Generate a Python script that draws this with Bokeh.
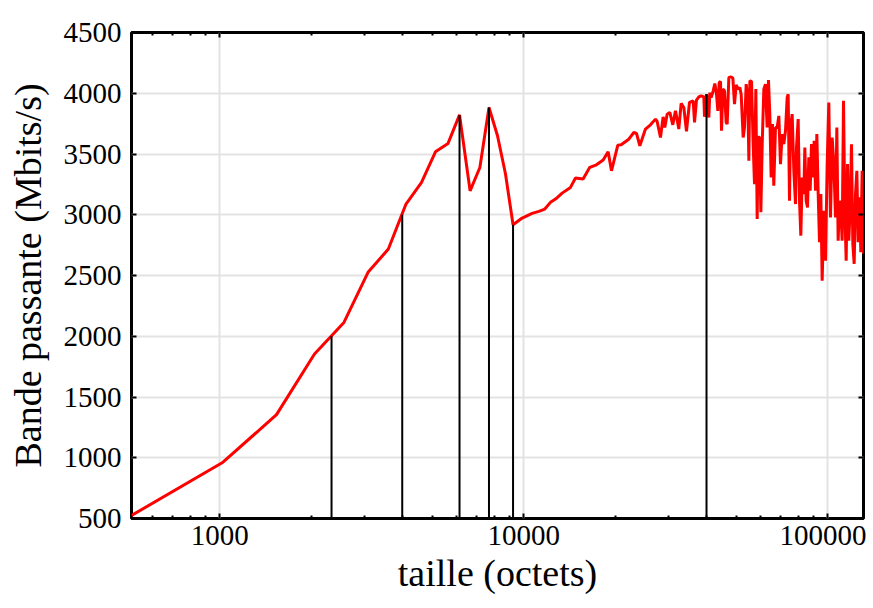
from bokeh.plotting import figure
from bokeh.models import Range1d, FixedTicker, LogAxis, LinearAxis, NumeralTickFormatter
from bokeh.embed import file_html
from bokeh.resources import INLINE

# ---- data ----
sizes = [512, 1024, 1536, 2048, 2560, 3072, 3584, 4096, 4608, 5120, 5632, 6144,
         6656, 7168, 7680, 8192, 8704, 9216, 9874, 10651, 11204, 11722, 12236,
         12715, 13366, 14239, 14791, 15668, 16482, 17338, 18239, 18941, 19427,
         20381, 20904, 22146, 23008, 23479, 24080, 25131, 26104, 27108, 27454,
         28158, 28728, 29093, 29613, 30219, 30910, 31543, 32356, 32928, 33602,
         34290, 35075,
         36076, 36443, 36987, 37651, 38324, 39108, 39307, 39908, 40616, 40926,
         41342, 41976, 42502, 43044, 43483, 43926, 44373, 44711, 45167, 45733,
         46315, 46668, 47263, 48108, 48721, 49331, 49960, 50715, 51361, 51884,
         52678, 53215, 53893, 54580, 54996, 55415, 56121, 56823, 57401, 57986,
         58577, 59024, 59625, 60232, 60846, 61607, 62373, 63162, 63806, 64456,
         65113, 65776, 66430, 67284,
         68150, 69020, 69883, 70774, 71676, 72589, 73517, 74078, 74833, 75390,
         76350, 77323, 78309, 78906, 79911, 80725, 81530, 82360, 83410, 84046,
         84901, 85766, 86620, 87503, 88394, 89295, 90205, 91124, 92052, 92990,
         93916, 94873, 95839, 97051, 98288, 99540, 100786, 102070, 103371,
         104688, 106022, 107102, 108167, 109270, 110383, 111508, 112644, 113792,
         114952, 116123, 117279, 118474, 119681, 120901, 122133, 123378, 124635,
         125893, 127140, 128434, 129742, 131072]
bandwidth = [525, 963, 1355, 1854, 2114, 2526, 2718, 3088, 3266, 3518, 3587, 3822,
             3197, 3389, 3883, 3650, 3335, 2918, 2973, 3011, 3028, 3047, 3102,
             3129, 3178, 3225, 3302, 3294, 3390, 3411, 3450, 3518, 3362,
             3573, 3576, 3622, 3677, 3669, 3568, 3705, 3740, 3787, 3768,
             3636, 3806, 3718, 3828, 3842, 3740, 3855, 3705, 3916, 3883,
             3686, 3924,
             3938, 3760, 3943, 3970, 3979, 3970, 3806, 3992, 3800, 4006,
             3965, 4020, 4080, 3992, 3855, 4088, 4097, 3691, 4034, 4020,
             3760, 3746, 4130, 4135, 4124, 3910, 4069, 4034, 4047, 3992,
             3636, 3718, 4075, 3951, 3444, 4102, 4097, 3581, 3252, 4034,
             2965, 3642, 3636, 3020, 3581, 4034, 4075, 3718, 4108, 3828,
             3307, 3746, 3239, 3718,
             3718, 3814, 3417, 3664, 3581, 3691, 3965, 3992, 3115, 3718,
             3828, 3362, 3088, 3554, 3787, 3115, 2828, 3307, 3170, 3554,
             3115, 3060, 3472, 3198, 3581, 3307, 3609, 3198, 3664, 3170,
             2773, 3170, 2457, 3033, 2622, 3417, 3924, 2978, 3636,
             3417, 2978, 3718, 2787, 3115, 3033, 2787, 3938, 3033,
             2622, 3417, 2787, 3060, 3581, 2759, 2595, 3170, 3362,
             2773, 3143, 2691, 3362, 2680]

marker_sizes = [2330, 3981, 6144, 7680, 9216, 39908]
marker_bandwidth = [2000, 3000, 3822, 3883, 2918, 3992]

x_major_ticks = [1000, 10000, 100000]
x_minor_ticks = [600, 700, 800, 900,
                 2000, 3000, 4000, 5000, 6000, 7000, 8000, 9000,
                 20000, 30000, 40000, 50000, 60000, 70000, 80000, 90000]
y_ticks = [500, 1000, 1500, 2000, 2500, 3000, 3500, 4000, 4500]
x_start, x_end = 512, 131072
y_start, y_end = 500, 4500

FONT = "'Liberation Serif', 'Times New Roman', serif"

p = figure(width=866, height=608, x_axis_type="log",
           x_range=Range1d(x_start, x_end), y_range=Range1d(y_start, y_end),
           output_backend="svg", toolbar_location=None,
           min_border_left=131, min_border_right=3,
           min_border_top=32, min_border_bottom=90)

p.background_fill_color = "white"
p.border_fill_color = "white"
p.outline_line_color = "black"
p.outline_line_width = 3

xt = FixedTicker(ticks=x_major_ticks, minor_ticks=x_minor_ticks)
yt = FixedTicker(ticks=y_ticks, minor_ticks=[])

p.xaxis.ticker = xt
p.yaxis.ticker = yt
p.xgrid.ticker = xt
p.ygrid.ticker = yt
for g in (p.xgrid, p.ygrid):
    g.grid_line_color = "#e3e3e3"
    g.grid_line_width = 2

p.add_layout(LogAxis(ticker=xt), "above")
p.add_layout(LinearAxis(ticker=yt), "right")

for ax in p.axis:
    ax.axis_line_color = None
    ax.major_tick_in = 5
    ax.major_tick_out = 0
    ax.minor_tick_in = 3
    ax.minor_tick_out = 0
    ax.major_tick_line_width = 2
    ax.minor_tick_line_width = 2
    ax.major_tick_line_color = "black"
    ax.minor_tick_line_color = "black"
    ax.major_label_text_font = FONT
    ax.major_label_text_color = "black"
    ax.major_label_text_font_size = "29px"
    ax.axis_label_text_font = FONT
    ax.axis_label_text_font_style = "normal"
    ax.axis_label_text_color = "black"

top_ax = p.above[0]
right_ax = p.right[0]
for ax in (top_ax, right_ax):
    ax.major_label_text_font_size = "1px"
    ax.major_label_text_color = None
    ax.major_label_standoff = 0
for ax in p.yaxis:
    ax.minor_tick_line_color = None

bx = p.below[0]
ly = p.left[0]
bx.formatter = NumeralTickFormatter(format="0")
bx.axis_label = "taille (octets)"
bx.axis_label_text_font_size = "38px"
bx.major_label_standoff = 7
bx.axis_label_standoff = 4
ly.axis_label = "Bande passante (Mbits/s)"
ly.axis_label_text_font_size = "38px"
ly.major_label_standoff = 10
ly.axis_label_standoff = 12

p.line(sizes, bandwidth, line_color="#ff0000", line_width=3)
p.segment(x0=marker_sizes, y0=[y_start] * len(marker_sizes),
          x1=marker_sizes, y1=marker_bandwidth,
          line_color="black", line_width=2)

open("out.html", "w").write(file_html(p, INLINE))
